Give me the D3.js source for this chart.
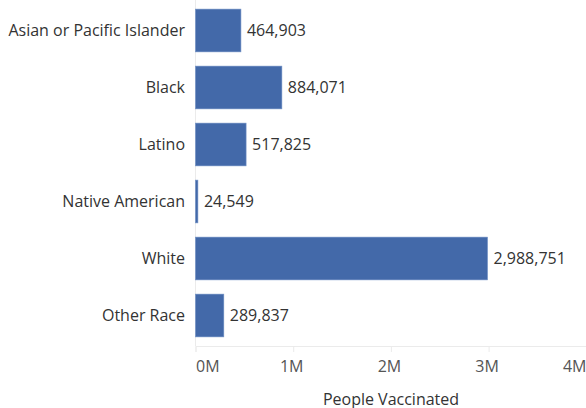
<!DOCTYPE html>
<html>
<head>
<meta charset="utf-8">
<script src="https://cdn.jsdelivr.net/npm/d3@7"></script>
<style>
  body { margin: 0; background: #fff; }
  #chart { width: 586px; height: 408px; }
  text { font-family: "Open Sans", sans-serif; }
</style>
</head>
<body>
<div id="chart"></div>
<script>
const categories = ["Asian or Pacific Islander", "Black", "Latino", "Native American", "White", "Other Race"];
const vaccinated = [464903, 884071, 517825, 24549, 2988751, 289837];
const xTicks = [0, 1000000, 2000000, 3000000, 4000000];
const xTickLabels = ["0M", "1M", "2M", "3M", "4M"];

const width = 586, height = 408;
const left = 195.5, axisY = 346;

const svg = d3.select("#chart").append("svg")
  .attr("width", width)
  .attr("height", height);

// scales
const x = d3.scaleLinear().domain([0, 4000000]).range([left, left + 4 * 97.7]);
const y = d3.scaleBand().domain(categories).range([0, axisY])
  .paddingInner(0.25).paddingOuter(0.16);

// zero line
svg.append("line")
  .attr("x1", left).attr("x2", left)
  .attr("y1", 0).attr("y2", axisY)
  .attr("stroke", "#ebebeb");

// axis
const axis = svg.append("g")
  .attr("transform", `translate(0,${axisY})`)
  .call(d3.axisBottom(x).tickValues(xTicks).tickFormat((d, i) => xTickLabels[i]).tickSize(6).tickPadding(9));
axis.select(".domain").attr("stroke", "#ebebeb");
axis.selectAll(".tick line").attr("stroke", "#ebebeb");
axis.selectAll(".tick text")
  .attr("fill", "#555")
  .style("font-size", "16px")
  .attr("dx", "-2");
axis.selectAll(".tick").filter((d, i) => i === 0).select("text")
  .attr("text-anchor", "start").attr("dx", "0");
// last label pulled inside the frame
axis.selectAll(".tick").filter((d, i) => i === xTicks.length - 1).select("text")
  .attr("text-anchor", "end").attr("dx", width - x(xTicks[xTicks.length - 1]));

// bars
const rows = categories.map((c, i) => ({ cat: c, val: vaccinated[i] }));

svg.selectAll(".bar")
  .data(rows)
  .join("rect")
  .attr("class", "bar")
  .attr("x", x(0))
  .attr("y", d => y(d.cat))
  .attr("width", d => Math.max(1.5, x(d.val) - x(0)))
  .attr("height", y.bandwidth())
  .attr("fill", "#4369a9")
  .attr("stroke", "#6f8fc4")
  .attr("stroke-width", 0.6);

// value labels
svg.selectAll(".val")
  .data(rows)
  .join("text")
  .attr("class", "val")
  .attr("x", d => x(d.val) + 6)
  .attr("y", d => y(d.cat) + y.bandwidth() / 2)
  .attr("dy", "0.35em")
  .attr("fill", "#333")
  .style("font-size", "16px")
  .text(d => d3.format(",")(d.val));

// category labels
svg.selectAll(".cat")
  .data(categories)
  .join("text")
  .attr("class", "cat")
  .attr("x", left - 10.5)
  .attr("y", d => y(d) + y.bandwidth() / 2)
  .attr("dy", "0.35em")
  .attr("text-anchor", "end")
  .attr("fill", "#333")
  .style("font-size", "16px")
  .text(d => d);

// axis title
svg.append("text")
  .attr("x", 391)
  .attr("y", 405)
  .attr("text-anchor", "middle")
  .attr("fill", "#333")
  .style("font-size", "16px")
  .text("People Vaccinated");
</script>
</body>
</html>
